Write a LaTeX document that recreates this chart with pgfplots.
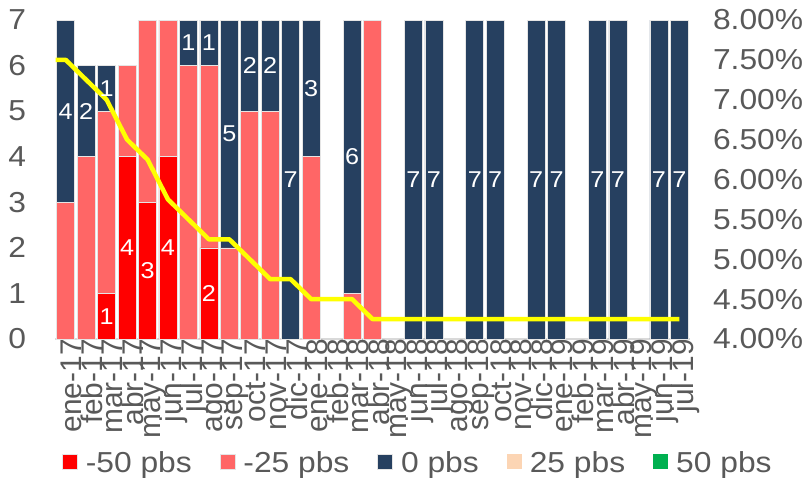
\documentclass[border=0pt]{standalone}
\usepackage{pgfplots}
\pgfplotsset{compat=1.18}
\usepackage{pgfplotstable}
\usepackage{fontspec}
\setmainfont{Liberation Sans}[FakeStretch=1.1]
\newfontfamily\plainsans{Liberation Sans}
\definecolor{cNeg50}{HTML}{FF0000}
\definecolor{cNeg25}{HTML}{FF6666}
\definecolor{cZero}{HTML}{264060}
\definecolor{cPos25}{HTML}{FCD5B4}
\definecolor{cPos50}{HTML}{00B050}
\definecolor{txt}{HTML}{595959}
\definecolor{axgray}{HTML}{D9D9D9}
\definecolor{lineyel}{HTML}{FFFF00}

\pgfplotstableread{
x n50 n25 z
0 0 3 4
1 0 4 2
2 1 4 1
3 4 2 0
4 3 4 0
5 4 3 0
6 0 6 1
7 2 4 1
8 0 2 5
9 0 5 2
10 0 5 2
11 0 0 7
12 0 4 3
13 0 0 0
14 0 1 6
15 0 7 0
16 0 0 0
17 0 0 7
18 0 0 7
19 0 0 0
20 0 0 7
21 0 0 7
22 0 0 0
23 0 0 7
24 0 0 7
25 0 0 0
26 0 0 7
27 0 0 7
28 0 0 0
29 0 0 7
30 0 0 7
}\bars

\pgfplotstableread{
x rate
-0.5 7.50
0 7.50
1 7.25
2 7.00
3 6.50
4 6.25
5 5.75
6 5.50
7 5.25
8 5.25
9 5.00
10 4.75
11 4.75
12 4.50
13 4.50
14 4.50
15 4.25
16 4.25
17 4.25
18 4.25
19 4.25
20 4.25
21 4.25
22 4.25
23 4.25
24 4.25
25 4.25
26 4.25
27 4.25
28 4.25
29 4.25
30 4.25
}\rate

\pgfplotstableread{
x y lab
2 0.5 1
3 2 4
4 1.5 3
5 2 4
7 1 2
0 5 4
1 5 2
2 5.5 1
6 6.5 1
7 6.5 1
8 4.5 5
9 6 2
10 6 2
11 3.5 7
12 5.5 3
14 4 6
17 3.5 7
18 3.5 7
20 3.5 7
21 3.5 7
23 3.5 7
24 3.5 7
26 3.5 7
27 3.5 7
29 3.5 7
30 3.5 7
}\labels

\pgfplotsset{
  common/.style={scale only axis, width=634bp, height=319bp, xmin=-0.5, xmax=30.5,
    enlarge x limits=false, enlarge y limits=false, at={(0,0)}, anchor=south west,
    /pgf/number format/assume math mode=true},
  bigfont/.style={font=\fontsize{29}{31}\selectfont},
  sqlegend/.style={legend image code/.code={\fill (0bp,-6bp) rectangle (15bp,9bp);}},
}

\begin{document}
\begin{tikzpicture}
\path[use as bounding box] (-55.5bp,-162bp) rectangle (753.5bp,339bp);
\begin{axis}[common, ybar stacked, bar width=18bp, ymin=0, ymax=7, ytick={0,...,7},
  xtick={0,...,30},
  xticklabels={ene-17,feb-17,mar-17,abr-17,may-17,jun-17,jul-17,ago-17,sep-17,oct-17,nov-17,dic-17,ene-18,feb-18,mar-18,abr-18,may-18,jun-18,jul-18,ago-18,sep-18,oct-18,nov-18,dic-18,ene-19,feb-19,mar-19,abr-19,may-19,jun-19,jul-19},
  x tick label style={rotate=90, anchor=east, font=\plainsans\fontsize{30}{31}\selectfont, text=txt, inner sep=0pt, yshift=-6bp},
  y tick label style={bigfont, text=txt, anchor=east, xshift=-26bp},
  axis x line*=bottom, axis y line*=left,
  y axis line style={draw=none},
  x axis line style={draw=axgray, line width=1.5bp},
  tick style={draw=none},
  every axis plot post/.append style={sqlegend},
  legend columns=5,
  legend style={at={(axis description cs:0.0103,-0.389)}, anchor=west, draw=none, fill=none,
    bigfont, text=txt, inner sep=0pt,
    nodes={inner sep=0pt},
    /tikz/every odd column/.append style={column sep=8bp},
    /tikz/every even column/.append style={column sep=28bp}},
]
\addplot[fill=cNeg50, draw=white!80!gray, line width=0.6bp] table[x=x,y=n50]{\bars};
\addlegendentry{-50 pbs}
\addplot[fill=cNeg25, draw=white!80!gray, line width=0.6bp] table[x=x,y=n25]{\bars};
\addlegendentry{-25 pbs}
\addplot[fill=cZero, draw=white!80!gray, line width=0.6bp] table[x=x,y=z]{\bars};
\addlegendentry{0 pbs}
\addlegendimage{fill=cPos25, draw=none, sqlegend}
\addlegendentry{25 pbs}
\addlegendimage{fill=cPos50, draw=none, sqlegend}
\addlegendentry{50 pbs}
\end{axis}
\begin{axis}[common, ymin=4, ymax=8, axis y line*=right, axis x line=none,
  ytick={4,4.5,5,5.5,6,6.5,7,7.5,8},
  yticklabel={\pgfmathprintnumber[fixed,fixed zerofill,precision=2]{\tick}\%},
  y tick label style={bigfont, text=txt, anchor=west, xshift=20bp},
  tick style={draw=none}, y axis line style={draw=none}]
\addplot[color=lineyel, line width=4.5bp, line join=round] table[x=x,y=rate]{\rate};
\end{axis}
\begin{axis}[common, hide axis, ymin=0, ymax=7]
\addplot[only marks, mark=none, nodes near coords, point meta=explicit symbolic,
  every node near coord/.append style={anchor=center, text=white, font=\fontsize{23}{23}\selectfont, inner sep=0pt}]
  table[x=x,y=y,meta=lab]{\labels};
\end{axis}
\end{tikzpicture}
\end{document}
